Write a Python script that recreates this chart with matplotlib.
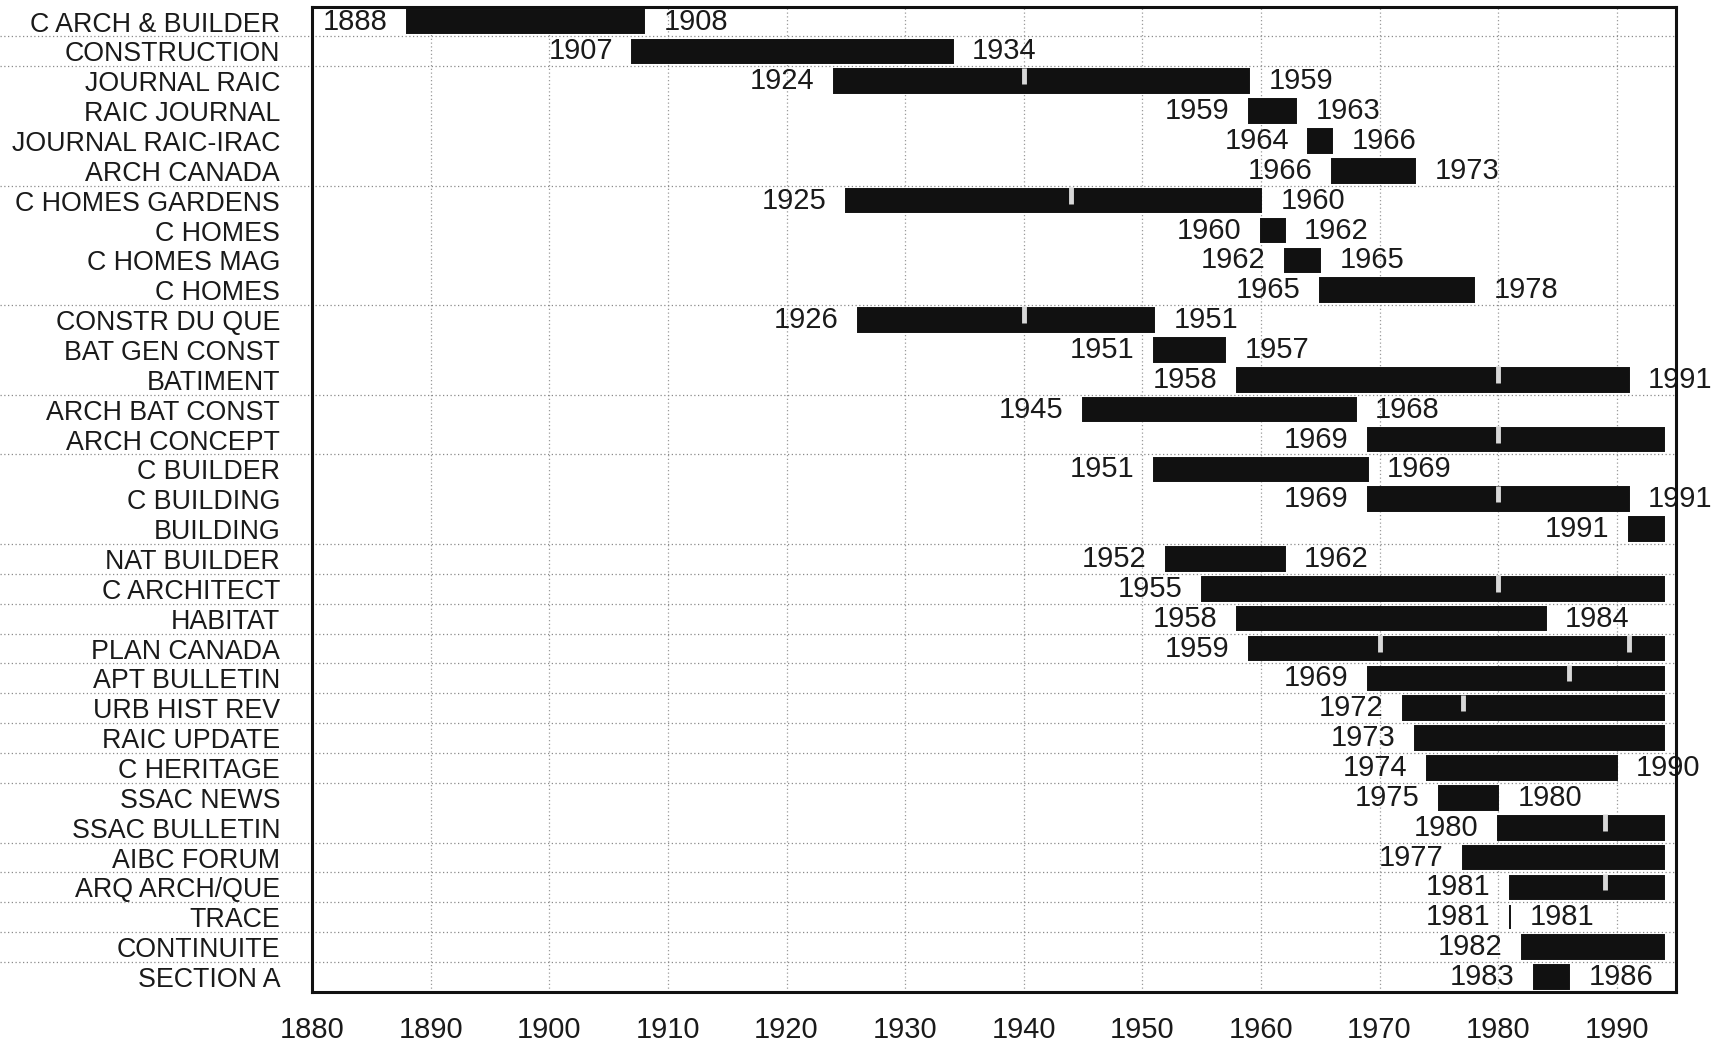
import numpy as np
import matplotlib
matplotlib.use("Agg")
import matplotlib.pyplot as plt
import matplotlib.transforms as mtransforms

plt.rcParams['font.family'] = ['Liberation Sans', 'DejaVu Sans']

# ---- data ----
titles = ["C ARCH & BUILDER", "CONSTRUCTION", "JOURNAL RAIC", "RAIC JOURNAL",
          "JOURNAL RAIC-IRAC", "ARCH CANADA", "C HOMES GARDENS", "C HOMES",
          "C HOMES MAG", "C HOMES", "CONSTR DU QUE", "BAT GEN CONST", "BATIMENT",
          "ARCH BAT CONST", "ARCH CONCEPT", "C BUILDER", "C BUILDING", "BUILDING",
          "NAT BUILDER", "C ARCHITECT", "HABITAT", "PLAN CANADA", "APT BULLETIN",
          "URB HIST REV", "RAIC UPDATE", "C HERITAGE", "SSAC NEWS", "SSAC BULLETIN",
          "AIBC FORUM", "ARQ ARCH/QUE", "TRACE", "CONTINUITE", "SECTION A"]
start_years = [1888, 1907, 1924, 1959, 1964, 1966, 1925, 1960, 1962, 1965,
               1926, 1951, 1958, 1945, 1969, 1951, 1969, 1991, 1952, 1955,
               1958, 1959, 1969, 1972, 1973, 1974, 1975, 1980, 1977, 1981,
               1981, 1982, 1983]
# None = still publishing
end_years = [1908, 1934, 1959, 1963, 1966, 1973, 1960, 1962, 1965, 1978,
             1951, 1957, 1991, 1968, None, 1969, 1991, None, 1962, None,
             1984, None, None, None, None, 1990, 1980, None, None, None,
             1981, None, 1986]
present_year = 1994
# interior markers (gaps / changes) per title
marks = [[], [], [1940], [], [], [], [1944], [], [], [],
         [1940], [], [1980], [], [1980], [], [1980], [], [], [1980],
         [], [1970, 1991], [1986], [1977], [], [], [], [1989], [], [1989],
         [], [], []]
# row boundaries where dotted separators are drawn (after row index)
separators_after = [0, 1, 5, 9, 12, 14, 17, 18, 19, 20, 21, 22, 23, 24, 25,
                    27, 28, 29, 30, 31]
decades = list(range(1880, 1991, 10))

# ---- figure ----
fig = plt.figure(figsize=(17.3, 10.48), dpi=100)
ax = fig.add_axes([0.1804, 0.0535, 0.7884, 0.9402])

n = len(titles)
ypos = np.arange(n)
ends_drawn = [e if e is not None else present_year for e in end_years]
widths = [e - s for s, e in zip(start_years, ends_drawn)]

ax.barh(ypos, widths, left=start_years, height=0.79, color='#111111',
        edgecolor='#111111', linewidth=1.4, zorder=3)

txt_color = '#1a1a1a'
fs_year = 21
for i, (s, e) in enumerate(zip(start_years, end_years)):
    ax.annotate(str(s), xy=(s, i), xytext=(-14, 0), textcoords='offset points',
                ha='right', va='center', fontsize=fs_year, color=txt_color,
                zorder=5, annotation_clip=False)
    if e is not None:
        ax.annotate(str(e), xy=(e, i), xytext=(14, 0), textcoords='offset points',
                    ha='left', va='center', fontsize=fs_year, color=txt_color,
                    zorder=5, annotation_clip=False)
    for m in marks[i]:
        ax.plot([m, m], [i - 0.46, i + 0.1], color='#d8d8d8', lw=3.5,
                solid_capstyle='butt', zorder=4)

# vertical dotted grid
for d in decades[1:]:
    ax.axvline(d, color='#9a9a9a', lw=0.9, ls=(0, (1, 2)), zorder=1)

# horizontal dotted separators, extending into the label area
trans = mtransforms.blended_transform_factory(ax.transAxes, ax.transData)
for r in separators_after:
    ax.plot([-0.229, 1.0], [r + 0.5, r + 0.5], transform=trans, color='#8a8a8a',
            lw=0.9, ls=(0, (1, 2)), clip_on=False, zorder=1)

ax.set_xlim(1880, 1995)
ax.set_ylim(n - 0.5, -0.5)
ax.set_xticks(decades)
ax.set_xticklabels([str(d) for d in decades], fontsize=21, color=txt_color)
ax.set_yticks(ypos)
ax.set_yticklabels(titles, fontsize=19.3, color=txt_color)
ax.tick_params(axis='x', length=0, pad=17)
ax.tick_params(axis='y', length=0, pad=23)
for sp in ax.spines.values():
    sp.set_linewidth(2.2)
    sp.set_color('#111111')
    sp.set_zorder(6)

fig.savefig("out.png", dpi=100, facecolor='white')
